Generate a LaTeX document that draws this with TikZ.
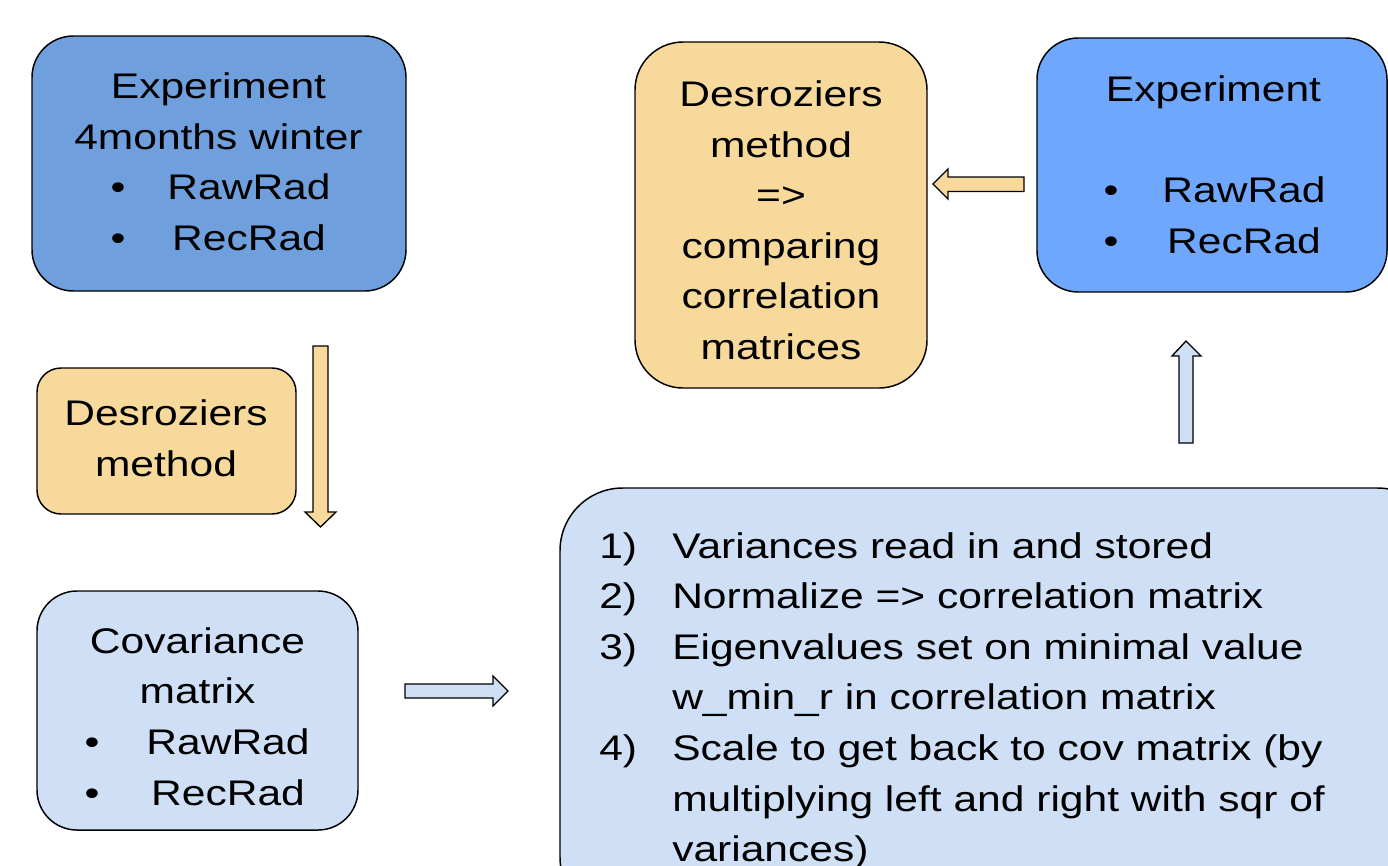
\documentclass[tikz,border=0pt]{standalone}
\usepackage{fontspec}
\setmainfont[FakeStretch=1.195]{Liberation Sans}
\usetikzlibrary{fit}
\definecolor{bluedark}{HTML}{6FA0DD}
\definecolor{bluebright}{HTML}{6FA7FD}
\definecolor{bluelight}{HTML}{CFDFF5}
\definecolor{sand}{HTML}{F7D99C}
\newcommand{\fsz}{\fontsize{26.7pt}{38pt}\selectfont}
\tikzset{
  box/.style={draw=black, line width=1.1pt, inner sep=0pt},
  txt/.style={anchor=base, inner sep=0pt, font=\fsz},
  ltxt/.style={anchor=base west, inner sep=0pt, font=\fsz},
  blockarrow/.style={draw=black, line width=1pt, line join=miter}
}
\begin{document}
\begin{tikzpicture}[x=0.75pt,y=-0.75pt]
\useasboundingbox (0,0) rectangle (1388,865);
\clip (0,0) rectangle (1388,865);
\fill[white] (0,0) rectangle (1388,865);

% Box A
\node[box, fill=bluedark, rounded corners=31pt, fit={(32,36)(406,291)}] (A) {};
\node[txt] (a1) at (218.5,98.5) {Experiment};
\node[txt] (a2) at (218.5,149) {4months winter};
\node[txt] (a3b) at (118,199.5) {•};
\node[txt] (a3) at (249,199.5) {RawRad};
\node[txt] (a4b) at (118,250) {•};
\node[txt] (a4) at (249,250) {RecRad};

% Box B
\node[box, fill=sand, rounded corners=18pt, fit={(37,368)(296,514)}] (B) {};
\node[txt] (b1) at (166,425) {Desroziers};
\node[txt] (b2) at (166,476) {method};

% Box C
\node[box, fill=bluelight, rounded corners=30pt, fit={(37,591)(358,830)}] (C) {};
\node[txt] (c1) at (197.5,653) {Covariance};
\node[txt] (c2) at (197.5,703.5) {matrix};
\node[txt] (c3b) at (92,754.5) {•};
\node[txt] (c3) at (228,754.5) {RawRad};
\node[txt] (c4b) at (92,805) {•};
\node[txt] (c4) at (228,805) {RecRad};

% Box D
\node[box, fill=bluelight, rounded corners=47pt, fit={(560,488)(1440,920)}] (D) {};
\node[ltxt] (d1n) at (599,558) {1)};
\node[ltxt] (d1) at (672,558) {Variances read in and stored};
\node[ltxt] (d2n) at (599,608.6) {2)};
\node[ltxt] (d2) at (672,608.6) {Normalize => correlation matrix};
\node[ltxt] (d3n) at (599,659.2) {3)};
\node[ltxt] (d3) at (672,659.2) {Eigenvalues set on minimal value};
\node[ltxt] (d3b) at (672,709.8) {w\_min\_r in correlation matrix};
\node[ltxt] (d4n) at (599,760.4) {4)};
\node[ltxt] (d4) at (672,760.4) {Scale to get back to cov matrix (by};
\node[ltxt] (d4b) at (672,811) {multiplying left and right with sqr of};
\node[ltxt] (d4c) at (672,861.6) {variances)};

% Box E
\node[box, fill=bluebright, rounded corners=31pt, fit={(1037,38)(1387,292)}] (E) {};
\node[txt] (e1) at (1213.5,101.5) {Experiment};
\node[txt] (e2b) at (1111,202.7) {•};
\node[txt] (e2) at (1244,202.7) {RawRad};
\node[txt] (e3b) at (1111,253.3) {•};
\node[txt] (e3) at (1244,253.3) {RecRad};

% Box F
\node[box, fill=sand, rounded corners=36pt, fit={(635,42)(927,388)}] (F) {};
\node[txt] (f1) at (781,106.5) {Desroziers};
\node[txt] (f2) at (781,157.1) {method};
\node[txt] (f3) at (781,207.7) {=>};
\node[txt] (f4) at (781,258.3) {comparing};
\node[txt] (f5) at (781,308.9) {correlation};
\node[txt] (f6) at (781,359.5) {matrices};

% Block arrows
\draw[blockarrow, fill=sand] (313,346) -- (328,346) -- (328,512) -- (336,512) -- (320.5,527) -- (305,512) -- (313,512) -- cycle;
\draw[blockarrow, fill=bluelight] (405,684) -- (493,684) -- (493,676) -- (508,691) -- (493,706) -- (493,698) -- (405,698) -- cycle;
\draw[blockarrow, fill=bluelight] (1179,443) -- (1179,356) -- (1172,356) -- (1186,341) -- (1201,356) -- (1193,356) -- (1193,443) -- cycle;
\draw[blockarrow, fill=sand] (1024,177) -- (948,177) -- (948,169) -- (933,184) -- (948,199) -- (948,191.5) -- (1024,191.5) -- cycle;
\end{tikzpicture}
\end{document}
